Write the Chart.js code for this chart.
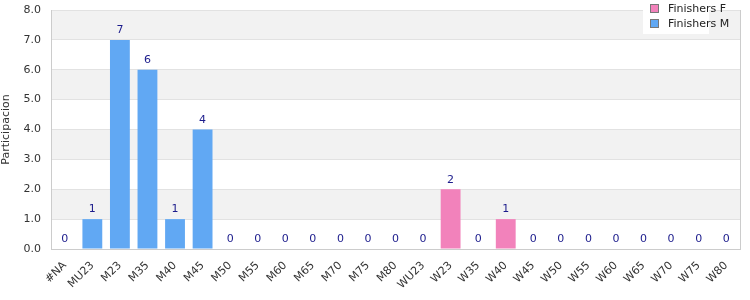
<!DOCTYPE html>
<html>
<head>
<meta charset="utf-8">
<script src="https://cdn.jsdelivr.net/npm/chart.js@4"></script>
<style>
    body { margin: 0; background: #fff; }
    #wrap { position: relative; width: 750px; height: 300px; }
    #legend { position: absolute; left: 643px; top: 0px; width: 66px; height: 34px; background: #fff; font: 11px "DejaVu Sans", sans-serif; color: #222; }
    #legend ul { list-style: none; margin: 0; padding: 1px 0 0 0; }
    #legend li { display: flex; align-items: center; height: 15px; white-space: nowrap; }
    #legend .box { flex: 0 0 auto; width: 7px; height: 7px; border: 1px solid #777; margin: 0 9px 0 7px; }
</style>
</head>
<body>
<div id="wrap">
    <canvas id="chart" width="750" height="300"></canvas>
    <div id="legend"></div>
</div>
<script>
const categories = ["#NA", "MU23", "M23", "M35", "M40", "M45", "M50", "M55", "M60", "M65", "M70", "M75", "M80",
    "WU23", "W23", "W35", "W40", "W45", "W50", "W55", "W60", "W65", "W70", "W75", "W80"];
const finishersF = [0, 0, 0, 0, 0, 0, 0, 0, 0, 0, 0, 0, 0, 0, 2, 0, 1, 0, 0, 0, 0, 0, 0, 0, 0];
const finishersM = [0, 1, 7, 6, 1, 4, 0, 0, 0, 0, 0, 0, 0, 0, 0, 0, 0, 0, 0, 0, 0, 0, 0, 0, 0];
const yTicks = [0, 1, 2, 3, 4, 5, 6, 7, 8];

const colors = {
    F: '#f282bb',
    M: '#61a8f3',
    band: '#f2f2f2',
    grid: '#e2e2e2',
    axis: '#cccccc',
    label: '#1c1c8c'
};

// alternating grey bands + right border
const bandPlugin = {
    id: 'bands',
    beforeDraw(chart) {
        const { ctx, chartArea, scales } = chart;
        ctx.save();
        ctx.fillStyle = colors.band;
        for (let v = 1; v < yTicks.length; v += 2) {
            const top = scales.y.getPixelForValue(yTicks[yTicks.length - v]);
            const bot = scales.y.getPixelForValue(yTicks[yTicks.length - v - 1]);
            ctx.fillRect(chartArea.left, top, chartArea.right - chartArea.left, bot - top);
        }
        ctx.restore();
    },
    afterDraw(chart) {
        const { ctx, chartArea } = chart;
        ctx.save();
        ctx.strokeStyle = colors.axis;
        ctx.lineWidth = 1;
        ctx.beginPath();
        ctx.moveTo(chartArea.right + 0.5, chartArea.top);
        ctx.lineTo(chartArea.right + 0.5, chartArea.bottom);
        ctx.stroke();
        ctx.restore();
    }
};

// totals above each stack
const totalsPlugin = {
    id: 'totals',
    afterDatasetsDraw(chart) {
        const { ctx, scales } = chart;
        ctx.save();
        ctx.fillStyle = colors.label;
        ctx.font = '11px "DejaVu Sans", sans-serif';
        ctx.textAlign = 'center';
        ctx.textBaseline = 'bottom';
        categories.forEach((c, i) => {
            const total = finishersF[i] + finishersM[i];
            const x = scales.x.getPixelForValue(i);
            const y = scales.y.getPixelForValue(total);
            ctx.fillText(String(total), x, y - 4);
        });
        ctx.restore();
    }
};

const htmlLegend = function (items) {
    const ul = document.createElement('ul');
    items.forEach(item => {
        const li = document.createElement('li');
        const box = document.createElement('span');
        box.className = 'box';
        box.style.background = item.color;
        const txt = document.createElement('span');
        txt.textContent = item.label;
        li.appendChild(box);
        li.appendChild(txt);
        ul.appendChild(li);
    });
    document.getElementById('legend').appendChild(ul);
};

const tickFont = { family: '"DejaVu Sans", sans-serif', size: 11 };

new Chart(document.getElementById('chart'), {
    type: 'bar',
    data: {
        labels: categories,
        datasets: [
            { label: 'Finishers F', data: finishersF, backgroundColor: colors.F, borderWidth: 0, stack: 's' },
            { label: 'Finishers M', data: finishersM, backgroundColor: colors.M, borderWidth: 0, stack: 's' }
        ]
    },
    options: {
        responsive: false,
        animation: false,
        layout: { padding: { top: 10, right: 10, left: 0, bottom: 0 } },
        scales: {
            x: {
                stacked: true,
                grid: { display: false },
                border: { color: colors.axis },
                ticks: { color: '#333', font: tickFont, minRotation: 45, maxRotation: 45, autoSkip: false, padding: 2 },
                afterFit(scale) {
                    scale.height = 51;
                    scale.paddingLeft = 0;
                    scale.paddingRight = 0;
                }
            },
            y: {
                stacked: true,
                min: 0,
                max: 8,
                grid: { color: colors.grid, drawTicks: false },
                border: { color: colors.axis },
                ticks: {
                    stepSize: 1,
                    color: '#333',
                    font: tickFont,
                    padding: 10,
                    callback: function (value) { return value.toFixed(1); }
                },
                title: { display: true, text: 'Participacion', color: '#333', font: tickFont, padding: 0 },
                afterFit(scale) {
                    scale.width = 51;
                    scale.paddingTop = 0;
                    scale.paddingBottom = 0;
                }
            }
        },
        plugins: {
            legend: { display: false },
            tooltip: { enabled: false }
        }
    },
    plugins: [bandPlugin, totalsPlugin]
});

htmlLegend([
    { label: 'Finishers F', color: colors.F },
    { label: 'Finishers M', color: colors.M }
]);
</script>
</body>
</html>
